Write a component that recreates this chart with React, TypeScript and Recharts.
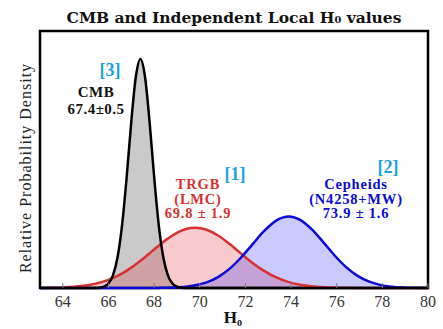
import { ComposedChart, Area, Line, XAxis, YAxis, ReferenceArea } from 'recharts';

// H0 sample points (km/s/Mpc) and the relative probability density
const hValues = [
  63, 63.5, 64, 64.5, 65, 65.4, 65.6, 65.8, 66.0, 66.2, 66.4, 66.6, 66.8, 67.0, 67.2, 67.4,
  67.6, 67.8, 68.0, 68.2, 68.4, 68.6, 68.8, 69.0, 69.2, 69.4, 69.8, 70.3, 70.8, 71.3, 71.8,
  72.3, 72.8, 73.4, 73.9, 74.4, 74.9, 75.4, 75.9, 76.4, 76.9, 77.4, 77.9, 78.4, 78.9, 79.4, 80,
];

const cmbDensity = [
  0, 0, 0, 0, 0, 0.0003, 0.0012, 0.0048, 0.0158, 0.0448, 0.108, 0.2218, 0.3884, 0.5794, 0.7365, 0.7979,
  0.7365, 0.5794, 0.3884, 0.2218, 0.108, 0.0448, 0.0158, 0.0048, 0.0012, 0.0003, 0, 0, 0, 0, 0,
  0, 0, 0, 0, 0, 0, 0, 0, 0, 0, 0, 0, 0, 0, 0, 0,
];

const trgbDensity = [
  0.0004, 0.0009, 0.002, 0.0043, 0.0086, 0.0144, 0.0183, 0.0229, 0.0284, 0.0349, 0.0424, 0.0509, 0.0604, 0.0709, 0.0823, 0.0946,
  0.1074, 0.1207, 0.1341, 0.1473, 0.1601, 0.172, 0.1828, 0.1922, 0.1998, 0.2054, 0.21, 0.2029, 0.1828, 0.1538, 0.1207,
  0.0883, 0.0604, 0.0349, 0.0205, 0.0112, 0.0057, 0.0027, 0.0012, 0.0005, 0.0002, 0.0001, 0, 0, 0, 0, 0,
];

const cepheidDensity = [
  0, 0, 0, 0, 0, 0, 0, 0, 0, 0, 0, 0, 0, 0, 0, 0.0001,
  0.0001, 0.0002, 0.0003, 0.0004, 0.0007, 0.001, 0.0016, 0.0023, 0.0033, 0.0048, 0.0094, 0.0198, 0.0381, 0.0666, 0.1054,
  0.1512, 0.1968, 0.2374, 0.2493, 0.2374, 0.2051, 0.1607, 0.1141, 0.0735, 0.043, 0.0228, 0.0109, 0.0048, 0.0019, 0.0007, 0.0002,
];

const xTicks = [64, 66, 68, 70, 72, 74, 76, 78, 80];

const data = hValues.map((h, i) => ({
  h,
  cmb: cmbDensity[i],
  trgb: trgbDensity[i],
  ceph: cepheidDensity[i],
}));

const SERIF = '"Liberation Serif", serif';
const RED = '#d93030';
const BLUE = '#0a0ad8';
const CYAN = '#1aa3dc';

const note = (
  x: number,
  y: number,
  color: string,
  size: number,
  lines: string[],
  key: string,
  lh = 15,
  spacing = 0,
) => (
  <div
    key={key}
    style={{
      position: 'absolute',
      left: x,
      top: y,
      transform: 'translate(-50%, -50%)',
      color,
      fontFamily: SERIF,
      fontWeight: 'bold',
      fontSize: size,
      lineHeight: `${lh}px`,
      letterSpacing: spacing,
      textAlign: 'center',
      whiteSpace: 'nowrap',
    }}
  >
    {lines.map((l) => (
      <div key={l}>{l}</div>
    ))}
  </div>
);

export default function App() {
  return (
    <div
      style={{
        position: 'absolute',
        left: 0,
        top: 0,
        width: 443,
        height: 329,
        background: '#fff',
        fontFamily: SERIF,
      }}
    >
      <ComposedChart width={443} height={329} data={data} margin={{ top: 31, right: 15, bottom: 11, left: 40 }}>
        <XAxis
          dataKey="h"
          type="number"
          domain={[63, 80]}
          ticks={xTicks}
          axisLine={false}
          tickSize={-5}
          tickMargin={13}
          tickLine={{ stroke: '#777', strokeWidth: 1 }}
          tick={{ fill: '#333', fontSize: 16 }}
          height={30}
        />
        <XAxis
          xAxisId="top"
          orientation="top"
          dataKey="h"
          type="number"
          domain={[63, 80]}
          ticks={xTicks}
          axisLine={false}
          tickSize={-5}
          tick={false}
          tickLine={{ stroke: '#777', strokeWidth: 1 }}
          height={0}
        />
        <YAxis hide domain={[0, 0.895]} />
        <Area type="monotoneX" dataKey="cmb" stroke="none" fill="#808080" fillOpacity={0.42} isAnimationActive={false} />
        <Area type="monotoneX" dataKey="trgb" stroke="none" fill="#e03030" fillOpacity={0.25} isAnimationActive={false} />
        <Area type="monotoneX" dataKey="ceph" stroke="none" fill="#2020ff" fillOpacity={0.24} isAnimationActive={false} />
        <Line type="monotoneX" dataKey="trgb" stroke={RED} strokeWidth={2.5} dot={false} isAnimationActive={false} />
        <Line type="monotoneX" dataKey="ceph" stroke={BLUE} strokeWidth={2.5} dot={false} isAnimationActive={false} />
        <Line type="monotoneX" dataKey="cmb" stroke="#000" strokeWidth={2.5} dot={false} isAnimationActive={false} />
        <ReferenceArea x1={63} x2={80} y1={0} y2={0.895} fill="none" stroke="#000" strokeWidth={2.5} ifOverflow="visible" />
      </ComposedChart>
      <div
        style={{
          position: 'absolute',
          left: 234,
          top: 17,
          transform: 'translate(-50%, -50%)',
          fontFamily: 'DejaVu Serif',
          fontWeight: 'bold',
          fontSize: 15.5,
          whiteSpace: 'nowrap',
          color: '#111',
        }}
      >
        CMB and Independent Local H₀ values
      </div>
      <div
        style={{
          position: 'absolute',
          left: 233,
          top: 318,
          transform: 'translate(-50%, -50%)',
          fontFamily: SERIF,
          fontWeight: 'bold',
          fontSize: 17,
          color: '#111',
        }}
      >
        H₀
      </div>
      <div
        style={{
          position: 'absolute',
          left: 26,
          top: 168,
          transform: 'translate(-50%, -50%) rotate(-90deg)',
          fontFamily: SERIF,
          fontSize: 16,
          letterSpacing: 1,
          whiteSpace: 'nowrap',
          color: '#222',
        }}
      >
        Relative Probability Density
      </div>
      {note(96, 101, '#111', 15, ['CMB', '67.4±0.5'], 'cmb', 17, 0.5)}
      {note(198, 199, RED, 14.5, ['TRGB', '(LMC)', '69.8 ± 1.9'], 'trgb', 14.5, 0.8)}
      {note(356, 199, BLUE, 14.5, ['Cepheids', '(N4258+MW)', '73.9 ± 1.6'], 'ceph', 14.5, 0.8)}
      {note(110, 70, CYAN, 18, ['[3]'], 'n3')}
      {note(235, 174, CYAN, 18, ['[1]'], 'n1')}
      {note(388, 167, CYAN, 18, ['[2]'], 'n2')}
    </div>
  );
}
